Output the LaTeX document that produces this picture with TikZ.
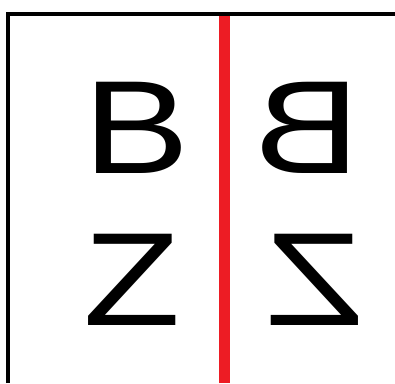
\documentclass[tikz,border=0pt]{standalone}
\usepackage{fontspec}
\setmainfont{Liberation Sans}
\definecolor{mirrorred}{HTML}{ED1C24}
\begin{document}
\begin{tikzpicture}[x=1pt,y=1pt,
  letter/.style={inner sep=0pt, anchor=base, font=\fontsize{132.7}{140}\selectfont}]
\useasboundingbox (0,0) rectangle (395,383);
\fill[white] (0,0) rectangle (395,383);
\coordinate (redbot) at (224,0);
\coordinate (redtop) at (224,369);
\draw[mirrorred, line width=11] (redbot) -- (redtop);
\coordinate (bl) at (8,0);
\coordinate (tl) at (8,369);
\coordinate (tr) at (395,369);
\draw[black, line width=4] (bl) -- (tl) -- (tr);
\node[letter] (b1) at (136.5,210) {\scalebox{1.2}[1]{B}};
\node[letter] (b2) at (307.5,210) {\scalebox{-1.2}[1]{B}};
\node[letter] (z1) at (132,58) {\scalebox{1.2}[1]{Z}};
\node[letter] (z2) at (315,58) {\scalebox{-1.2}[1]{Z}};
\end{tikzpicture}
\end{document}
